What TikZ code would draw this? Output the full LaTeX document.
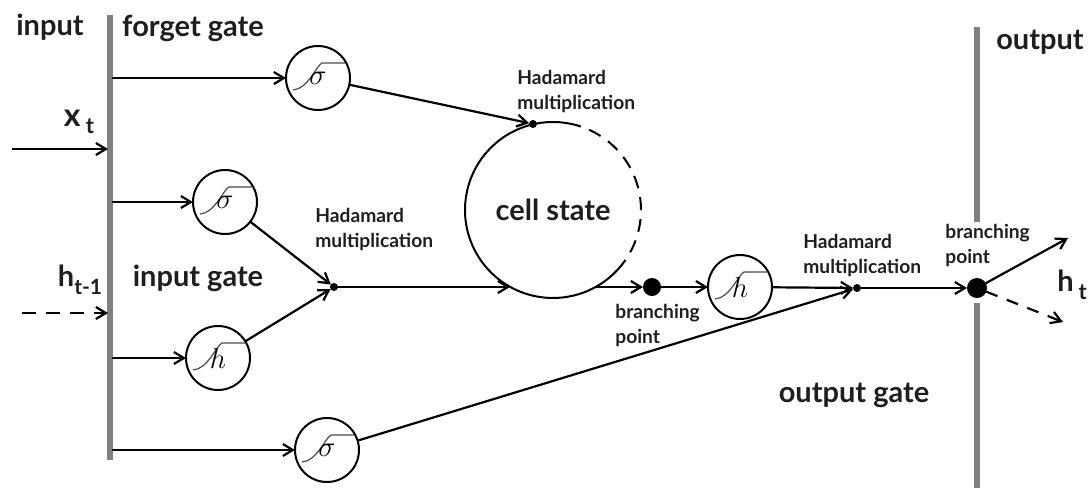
\documentclass[tikz,border=0pt]{standalone}
\usepackage{fontspec}
\setmainfont{Lato}
\usetikzlibrary{arrows.meta}
\definecolor{barcol}{RGB}{128,128,128}
\definecolor{txt}{RGB}{30,30,30}
\tikzset{
  gate/.style={circle, draw, line width=1pt, minimum size=32pt, inner sep=0pt, outer sep=0pt, font=\fontsize{14}{14}\selectfont},
  dotnode/.style={circle, fill, inner sep=0pt, outer sep=0pt, minimum size=#1},
  conn/.style={line width=1.1pt, -{Straight Barb[length=5pt,width=6pt]}},
  bar/.style={line width=3pt, draw=barcol},
  big/.style={font=\bfseries\fontsize{14.5}{16}\selectfont, text=txt},
  small/.style={font=\bfseries\fontsize{9.6}{12.5}\selectfont, align=left, text=txt, inner sep=0pt},
  glyph/.style={line width=0.6pt, draw=black!70},
  sigm/.pic={\draw[glyph] (-25,-12) .. controls (-10,-11) and (-2,12) .. (4,15) -- (27,15);}
}
\begin{document}
\begin{tikzpicture}[x=0.5pt,y=0.5pt]
\useasboundingbox (0,0) rectangle (1092,-488);
% bars
\coordinate (L1) at (110,-15);
\coordinate (L2) at (110,-460);
\coordinate (R1) at (977,-27);
\coordinate (R2) at (977,-222);
\coordinate (R3) at (977,-303);
\coordinate (R4) at (977,-488);
\draw[bar] (L1) -- (L2);
\draw[bar] (R1) -- (R2);
\draw[bar] (R3) -- (R4);
% gates
\pic at (318,-78) {sigm};
\pic at (225,-202) {sigm};
\pic at (218,-358) {sigm};
\pic at (327,-450) {sigm};
\pic at (740,-287) {sigm};
\node[gate] (fs) at (318,-78) {$\sigma$};
\node[gate] (is) at (225,-202) {$\sigma$};
\node[gate] (ih) at (218,-358) {$h$};
\node[gate] (os) at (327,-450) {$\sigma$};
\node[gate] (oh) at (740,-287) {$h$};
% dots
\node[dotnode=4pt] (hf) at (533,-124) {};
\node[dotnode=4pt] (hi) at (334,-287) {};
\node[dotnode=4pt] (ho) at (857,-288) {};
\node[dotnode=9pt] (b1) at (652,-287) {};
\node[dotnode=10pt] (b2) at (977,-288) {};
% cell state
\node[circle, minimum size=88pt, inner sep=0pt, outer sep=0pt, big] (cs) at (553,-210) {cell state};
\draw[line width=1pt] (cs.77) arc[start angle=77, end angle=317, radius=88];
\draw[line width=1pt, dash pattern=on 6.5pt off 4.5pt] (cs.-43) arc[start angle=-43, end angle=77, radius=88];
\coordinate (cin) at (510,-287);
\coordinate (cout) at (596,-287);
% inputs from left bar
\coordinate (a1) at (112,-78);
\coordinate (a2) at (112,-202);
\coordinate (a3) at (112,-358);
\coordinate (a4) at (112,-450);
\draw[conn] (a1) -- (fs.west);
\draw[conn] (a2) -- (is.west);
\draw[conn] (a3) -- (ih.west);
\draw[conn] (a4) -- (os.west);
\coordinate (xa) at (12,-149);
\coordinate (xb) at (108,-149);
\coordinate (ha) at (22,-313);
\coordinate (hb) at (108,-313);
\draw[conn] (xa) -- (xb);
\draw[conn, dash pattern=on 7pt off 5pt] (ha) -- (hb);
% internal connectors
\draw[conn] (fs) -- (hf);
\draw[conn] (is) -- (hi);
\draw[conn] (ih) -- (hi);
\draw[conn] (hi) -- (cin);
\draw[conn] (cout) -- (b1);
\draw[conn] (b1) -- (oh);
\draw[conn] (oh) -- (ho);
\draw[conn] (os) -- (ho);
\draw[conn] (ho) -- (b2);
\coordinate (hu) at (1068,-238);
\coordinate (hd) at (1063,-322);
\draw[conn] (b2) -- (hu);
\draw[conn, dash pattern=on 6pt off 5pt] (b2) -- (hd);
% labels
\node[big] (linput) at (50,-27) {input};
\node[big] (lforget) at (193,-28) {forget gate};
\node[big] (linputg) at (198,-278) {input gate};
\node[big] (loutg) at (854,-395) {output gate};
\node[big] (lout) at (1040,-42) {output};
\node[big] (lx) at (79,-122) {\fontsize{16}{16}\selectfont x\,\raisebox{-0.45ex}{\fontsize{11}{11}\selectfont t}};
\node[big] (lh) at (80,-280) {h\raisebox{-0.5ex}{\fontsize{10.5}{10.5}\selectfont t-1}};
\node[big] (lht) at (1072,-285) {h\,\raisebox{-0.5ex}{\fontsize{11}{11}\selectfont t}};
\node[small, anchor=north west] (lhad1) at (517,-70) {Hadamard\\multiplication};
\node[small, anchor=north west] (lhad2) at (315,-208) {Hadamard\\multiplication};
\node[small, anchor=north west] (lhad3) at (803,-234) {Hadamard\\multiplication};
\node[small, anchor=north west] (lbr1) at (615,-304) {branching\\point};
\node[small, anchor=north west] (lbr2) at (945,-224) {branching\\point};
\end{tikzpicture}
\end{document}
